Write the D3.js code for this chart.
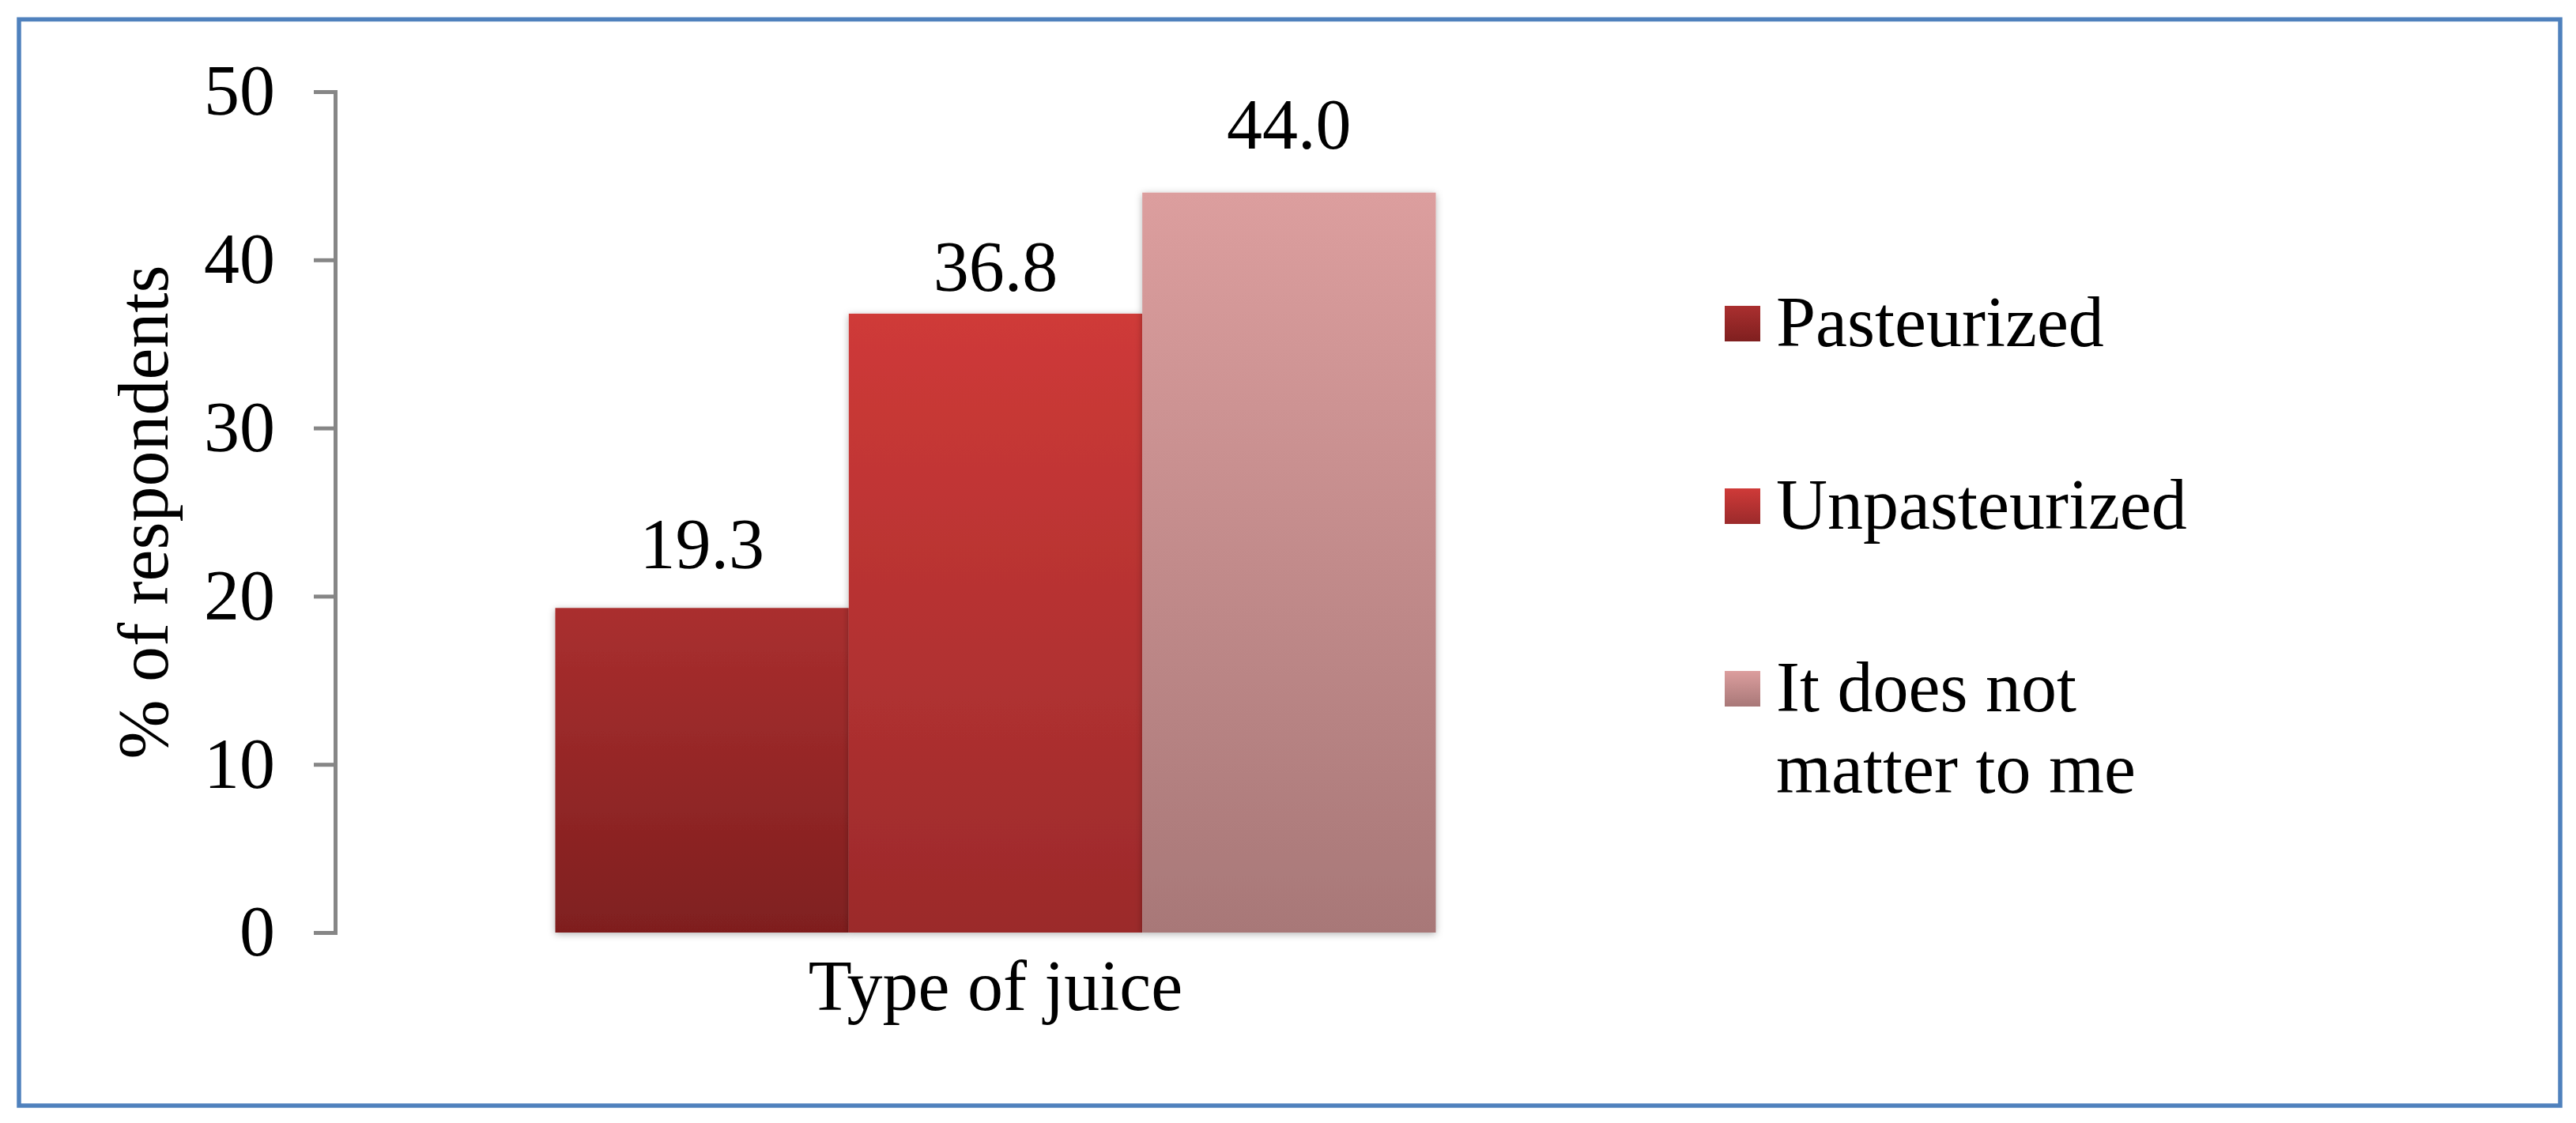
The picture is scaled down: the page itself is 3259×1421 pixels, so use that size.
<!DOCTYPE html>
<html>
<head>
<meta charset="utf-8">
<script src="https://cdn.jsdelivr.net/npm/d3@7"></script>
<style>
  html, body { margin: 0; padding: 0; background: #fff; }
  svg { display: block; }
  text { font-family: "Liberation Serif", "Times New Roman", serif; fill: #000; }
</style>
</head>
<body>
<svg id="chart" width="3259" height="1421"></svg>
<script>
// data
const categories = ["Type of juice"];
const seriesNames = ["Pasteurized", "Unpasteurized", "It does not matter to me"];
const values = [19.3, 36.8, 44.0];
const yTicks = [0, 10, 20, 30, 40, 50];
const legendLines = [["Pasteurized"], ["Unpasteurized"], ["It does not", "matter to me"]];

// gradient colours (top, bottom) per series
const topColors = ["#aa2f2f", "#cf3a38", "#dc9e9e"];
const bottomColors = ["#7f1f1f", "#9b2a2b", "#a87878"];
// distance from bar top to label baseline, the source places them unevenly
const labelGap = [50, 29, 56];

let svg = d3.select("#chart");
let W = 3259, H = 1421;

svg.append("rect").attr("width", W).attr("height", H).attr("fill", "#fff");

// outer blue frame
svg.append("rect")
    .attr("x", 24).attr("y", 24.5)
    .attr("width", 3215).attr("height", 1374.5)
    .attr("fill", "none")
    .attr("stroke", "#4f81bd")
    .attr("stroke-width", 5.5);

let defs = svg.append("defs");

seriesNames.forEach(function(s, i) {
    let g = defs.append("linearGradient")
        .attr("id", "grad" + i)
        .attr("x1", 0).attr("y1", 0).attr("x2", 0).attr("y2", 1);
    g.append("stop").attr("offset", "0%").attr("stop-color", topColors[i]);
    g.append("stop").attr("offset", "100%").attr("stop-color", bottomColors[i]);
});

let shadow = defs.append("filter")
    .attr("id", "shadow")
    .attr("x", "-10%").attr("y", "-10%")
    .attr("width", "120%").attr("height", "120%");
shadow.append("feDropShadow")
    .attr("dx", 0).attr("dy", 2)
    .attr("stdDeviation", 5)
    .attr("flood-color", "#000")
    .attr("flood-opacity", 0.3);

// plot area
let plotLeft = 424, plotRight = 2095, plotTop = 116, plotBottom = 1180;

let y = d3.scaleLinear().domain([0, 50]).range([plotBottom, plotTop]);

let x0 = d3.scaleBand()
    .domain(categories)
    .range([plotLeft, plotRight])
    .paddingInner(0)
    .paddingOuter(0.25);

let x1 = d3.scaleBand()
    .domain(seriesNames)
    .range([0, x0.bandwidth()])
    .padding(0);

// bars
let bars = svg.append("g");
categories.forEach(function(c) {
    seriesNames.forEach(function(s, i) {
        bars.append("rect")
            .attr("x", x0(c) + x1(s))
            .attr("y", y(values[i]))
            .attr("width", x1.bandwidth())
            .attr("height", y(0) - y(values[i]))
            .attr("fill", "url(#grad" + i + ")")
            .attr("filter", "url(#shadow)");
    });
});

// value labels
let fmt = d3.format(".1f");
categories.forEach(function(c) {
    seriesNames.forEach(function(s, i) {
        svg.append("text")
            .attr("x", x0(c) + x1(s) + x1.bandwidth() / 2)
            .attr("y", y(values[i]) - labelGap[i])
            .attr("text-anchor", "middle")
            .style("font-size", "90px")
            .text(fmt(values[i]));
    });
});

// y axis
let yAxis = svg.append("g")
    .attr("transform", "translate(" + plotLeft + ",0)")
    .call(d3.axisLeft(y)
        .tickValues(yTicks)
        .tickSize(27)
        .tickPadding(49)
        .tickFormat(d3.format("d")));
yAxis.selectAll("path, line")
    .attr("stroke", "#868686")
    .attr("stroke-width", 5);
yAxis.selectAll("text")
    .style("font-size", "90px")
    .style("font-family", "'Liberation Serif', 'Times New Roman', serif")
    .attr("fill", "#000");

// x axis (category label only)
let xAxis = svg.append("g")
    .attr("transform", "translate(0," + plotBottom + ")")
    .call(d3.axisBottom(x0).tickSize(0).tickPadding(34));
xAxis.select(".domain").remove();
xAxis.selectAll("text")
    .style("font-size", "90px")
    .style("font-family", "'Liberation Serif', 'Times New Roman', serif")
    .attr("fill", "#000");

// y axis title
svg.append("text")
    .attr("transform", "translate(212," + ((plotTop + plotBottom) / 2) + ") rotate(-90)")
    .attr("text-anchor", "middle")
    .style("font-size", "90px")
    .text("% of respondents");

// legend
let legend = svg.append("g");
seriesNames.forEach(function(s, i) {
    let base = 438 + i * 231;
    legend.append("rect")
        .attr("x", 2182).attr("y", base - 51)
        .attr("width", 45).attr("height", 45)
        .attr("fill", "url(#grad" + i + ")");
    let t = legend.append("text")
        .attr("x", 2247).attr("y", base)
        .style("font-size", "90px");
    legendLines[i].forEach(function(line, j) {
        t.append("tspan")
            .attr("x", 2247)
            .attr("y", base + j * 103)
            .text(line);
    });
});
</script>
</body>
</html>
